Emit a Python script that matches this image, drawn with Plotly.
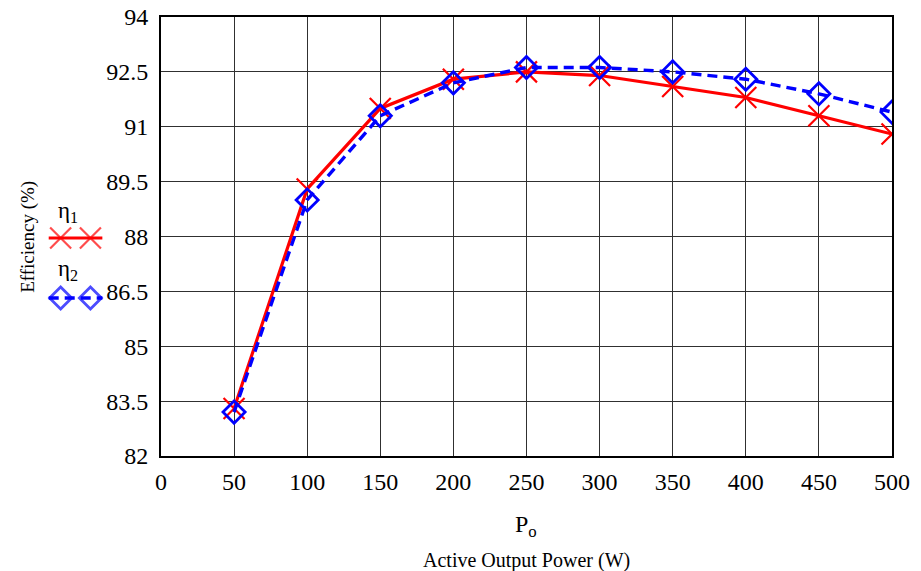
import plotly.graph_objects as go

# Output power levels (W) and measured efficiencies (%)
power_w = [50, 100, 150, 200, 250, 300, 350, 400, 450, 500]
eta_1 = [83.3, 89.3, 91.5, 92.3, 92.5, 92.4, 92.1, 91.8, 91.3, 90.8]
eta_2 = [83.2, 89.0, 91.3, 92.2, 92.62, 92.62, 92.5, 92.3, 91.9, 91.4]

x_ticks = [0, 50, 100, 150, 200, 250, 300, 350, 400, 450, 500]
y_ticks = [82, 83.5, 85, 86.5, 88, 89.5, 91, 92.5, 94]
y_tick_text = ["82", "83.5", "85", "86.5", "88", "89.5", "91", "92.5", "94"]

# Legend swatch geometry (in the small key axis, pixel-like units)
key_x = [43, 55, 85, 97]
key_marker_sizes = [0, 1, 1, 0]

W, H = 921, 571
ML, MR, MT, MB = 0, 29, 17, 115
plot_w = W - ML - MR
plot_h = H - MT - MB
left_px = 156

FONT = "Liberation Serif, Times New Roman, serif"
RED = "#ff0000"
BLUE = "#0000ff"

fig = go.Figure()

fig.add_trace(go.Scatter(
    x=power_w, y=eta_1, mode="lines+markers", name="η1",
    line=dict(color=RED, width=3.2),
    marker=dict(symbol="x-thin-open", size=21, line=dict(color=RED, width=2.2)),
    showlegend=False,
))
fig.add_trace(go.Scatter(
    x=power_w, y=eta_2, mode="lines+markers", name="η2",
    line=dict(color=BLUE, width=3.4, dash="10px,6px"),
    marker=dict(symbol="diamond-open", size=17, color=BLUE, line=dict(color=BLUE, width=2.8)),
    showlegend=False,
))

# Key swatches drawn on an auxiliary axis in the left margin
fig.add_trace(go.Scatter(
    x=key_x, y=[238] * 4, xaxis="x2", yaxis="y2", mode="lines+markers",
    line=dict(color=RED, width=3.2),
    marker=dict(symbol="x-thin-open", size=[s * 21 for s in key_marker_sizes],
                line=dict(color=RED, width=2.2)),
    showlegend=False, hoverinfo="skip",
))
fig.add_trace(go.Scatter(
    x=key_x, y=[298] * 4, xaxis="x2", yaxis="y2", mode="lines+markers",
    line=dict(color=BLUE, width=3.4, dash="10px,6px"),
    marker=dict(symbol="diamond-open", size=[s * 17 for s in key_marker_sizes],
                color=BLUE, line=dict(color=BLUE, width=2.8)),
    showlegend=False, hoverinfo="skip",
))

grid = "#303030"
fig.update_layout(
    width=W, height=H,
    margin=dict(l=ML, r=MR, t=MT, b=MB),
    paper_bgcolor="white", plot_bgcolor="white",
    font=dict(family=FONT, color="black"),
    xaxis=dict(
        domain=[(left_px - ML) / plot_w, 1],
        range=[0, 500], tickvals=x_ticks,
        showgrid=True, gridcolor=grid, gridwidth=1,
        showline=True, linecolor="black", linewidth=2, mirror=True,
        zeroline=False, ticks="", tickfont=dict(size=24, family=FONT, color="black"),
        ticklabelstandoff=3,
    ),
    yaxis=dict(
        range=[82, 94], tickvals=y_ticks, ticktext=y_tick_text,
        showgrid=True, gridcolor=grid, gridwidth=1,
        showline=True, linecolor="black", linewidth=2, mirror=True,
        zeroline=False, ticks="", tickfont=dict(size=24, family=FONT, color="black"),
        ticklabelstandoff=6,
    ),
    xaxis2=dict(domain=[0, (left_px - ML) / plot_w], range=[0, left_px - ML],
                visible=False, fixedrange=True),
    yaxis2=dict(domain=[0, 1], range=[H - MB, MT], anchor="x2",
                visible=False, fixedrange=True),
)

x_mid = ((left_px + (W - MR)) / 2 - ML) / plot_w
annotations = [
    dict(text="P<sub>o</sub>", x=x_mid, xref="paper", xanchor="center",
         y=-0.16, yref="paper", yanchor="middle", showarrow=False,
         font=dict(size=24, family=FONT)),
    dict(text="Active Output Power (W)", x=x_mid, xref="paper", xanchor="center",
         y=-0.237, yref="paper", yanchor="middle", showarrow=False,
         font=dict(size=20, family=FONT)),
    dict(text="Efficiency (%)", x=22, xref="x2", y=237, yref="y2", textangle=-90,
         showarrow=False, font=dict(size=19, family=FONT)),
    dict(text="η<sub>1</sub>", x=62, xref="x2", y=212, yref="y2",
         showarrow=False, font=dict(size=23, family=FONT)),
    dict(text="η<sub>2</sub>", x=62, xref="x2", y=270, yref="y2",
         showarrow=False, font=dict(size=23, family=FONT)),
]
fig.update_layout(annotations=annotations)

fig.write_html("out.html")
